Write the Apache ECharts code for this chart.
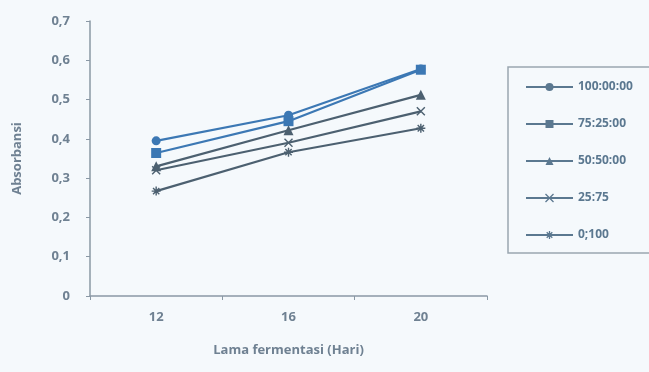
<!DOCTYPE html>
<html>
<head>
<meta charset="utf-8">
<script src="https://cdn.jsdelivr.net/npm/echarts@6/dist/echarts.min.js"></script>
<style>
  html, body { margin: 0; padding: 0; background: #f5f9fc; }
  #chart { width: 649px; height: 372px; }
</style>
</head>
<body>
<div id="chart"></div>
<script>
// Fermentation days on the x axis
const days = ['12', '16', '20'];

// Absorbance per ratio
const s100_0 = [0.395, 0.460, 0.578];
const s75_25 = [0.364, 0.445, 0.576];
const s50_50 = [0.330, 0.422, 0.512];
const s25_75 = [0.320, 0.390, 0.470];
const s0_100 = [0.267, 0.366, 0.427];

const seriesNames = ['100:00:00', '75:25:00', '50:50:00', '25:75', '0;100'];

const crossPath = 'path://M0,0L10,10M10,0L0,10';
const starPath = 'path://M5,0L5,10M0,5L10,5M1.5,1.5L8.5,8.5M8.5,1.5L1.5,8.5';
const seriesSymbols = ['circle', 'rect', 'triangle', crossPath, starPath];

const blue = '#3c78b4';
const slate = '#4c6070';
const legendGray = '#5b7890';
const textGray = '#6f8192';

function line(name, data, color, symbol, size, stroked) {
  return {
    name: name,
    type: 'line',
    data: data,
    symbol: symbol,
    symbolSize: size,
    showSymbol: true,
    lineStyle: { color: color, width: 2.2 },
    itemStyle: stroked
      ? { color: color, borderColor: color, borderWidth: 1.4 }
      : { color: color },
    emphasis: { disabled: true }
  };
}

const chart = echarts.init(document.getElementById('chart'));
chart.setOption({
  backgroundColor: '#f5f9fc',
  animation: false,
  grid: { left: 90, right: 162, top: 21, bottom: 76 },
  xAxis: {
    type: 'category',
    data: days,
    boundaryGap: true,
    name: 'Lama fermentasi (Hari)',
    nameLocation: 'middle',
    nameGap: 48,
    nameTextStyle: { color: textGray, fontSize: 13, fontWeight: 'bold', fontFamily: 'Open Sans' },
    axisLine: { lineStyle: { color: '#8a98a5', width: 1.5 } },
    axisTick: { show: true, length: 4, lineStyle: { color: '#8a98a5' } },
    axisLabel: { color: textGray, fontSize: 13, fontWeight: 'bold', margin: 15, fontFamily: 'Open Sans' }
  },
  yAxis: {
    type: 'value',
    min: 0,
    max: 0.7,
    interval: 0.1,
    name: 'Absorbansi',
    nameLocation: 'middle',
    nameGap: 66,
    nameTextStyle: { color: textGray, fontSize: 13, fontWeight: 'bold', fontFamily: 'Open Sans' },
    axisLine: { show: true, lineStyle: { color: '#8a98a5', width: 1.5 } },
    axisTick: { show: true, length: 4, lineStyle: { color: '#8a98a5' } },
    splitLine: { show: false },
    axisLabel: {
      color: textGray, fontSize: 13, fontWeight: 'bold', margin: 20, fontFamily: 'Open Sans',
      formatter: v => v === 0 ? '0' : v.toFixed(1).replace('.', ',')
    }
  },
  legend: {
    orient: 'vertical',
    left: 508,
    top: 67,
    padding: [14, 30, 12, 17],
    itemGap: 25,
    itemWidth: 47,
    itemHeight: 10,
    borderColor: '#9aa6b0',
    borderWidth: 1.5,
    backgroundColor: '#f5f9fc',
    textStyle: { color: legendGray, fontSize: 12, fontWeight: 'bold', fontFamily: 'Open Sans' },
    lineStyle: { color: legendGray },
    data: seriesNames.map((n, i) => ({
      name: n,
      itemStyle: i >= 3
        ? { color: legendGray, borderColor: legendGray, borderWidth: 1.3 }
        : { color: legendGray, borderColor: legendGray }
    })),
    inactiveColor: legendGray
  },
  series: [
    line(seriesNames[0], s100_0, blue, seriesSymbols[0], 9, false),
    line(seriesNames[1], s75_25, blue, seriesSymbols[1], 10, false),
    line(seriesNames[2], s50_50, slate, seriesSymbols[2], 10, false),
    line(seriesNames[3], s25_75, slate, seriesSymbols[3], 8, true),
    line(seriesNames[4], s0_100, slate, seriesSymbols[4], 9, true)
  ]
});
</script>
</body>
</html>
